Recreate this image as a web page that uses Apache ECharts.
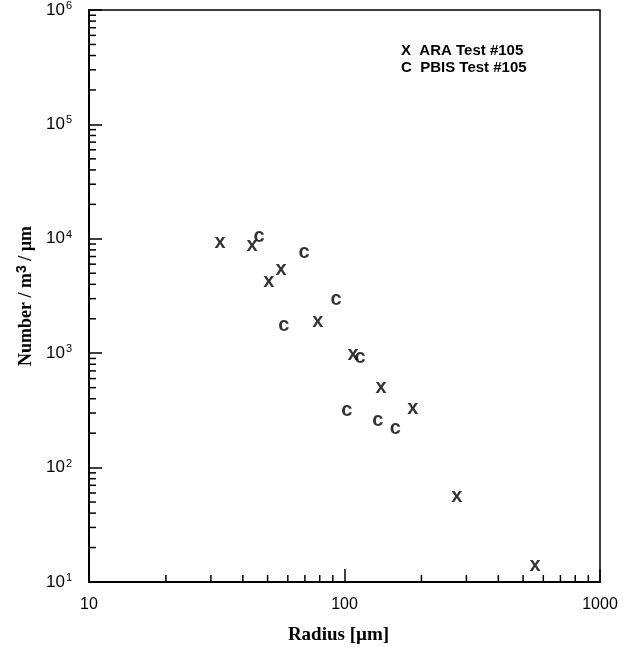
<!DOCTYPE html>
<html><head><meta charset="utf-8">
<script src="https://cdn.jsdelivr.net/npm/echarts@6/dist/echarts.min.js"></script>
<style>html,body{margin:0;padding:0;background:#fff}#c{width:626px;height:647px}</style>
</head><body><div id="c"></div>
<script>
// ARA Test #105 (x markers): [radius µm, number/m^3/µm]
const araRadius = [32.6, 43.5, 50.6, 56.4, 78.7, 108, 139, 185, 275, 557];
const araNumber = [9500, 9000, 4360, 5450, 1950, 1000, 507, 332, 56.5, 14.1];
// PBIS Test #105 (c markers)
const pbisRadius = [46.3, 69.4, 57.9, 92.7, 115, 102, 135, 158];
const pbisNumber = [10600, 7670, 1765, 2980, 927, 325, 261, 222];
const seriesNames = ['ARA Test #105', 'PBIS Test #105'];
const seriesLetters = ['X', 'C'];
const markLetters = ['x', 'c'];
const xRange = [10, 1000];
const yRange = [10, 1000000];

const minorX = [], minorY = [];
for (let d = xRange[0]; d < xRange[1]; d *= 10) for (let k = 2; k <= 9; k++) minorX.push(d * k);
for (let d = yRange[0]; d < yRange[1]; d *= 10) for (let k = 2; k <= 9; k++) minorY.push(d * k);

const sans = 'Liberation Sans, Arial, Helvetica, sans-serif';
const serif = 'Liberation Serif, Times New Roman, serif';
const chart = echarts.init(document.getElementById('c'));

function markSeries(i, xs, ys) {
  return {
    name: seriesNames[i], type: 'scatter',
    data: xs.map((x, j) => [x, ys[j]]),
    symbol: 'circle', symbolSize: 1,
    itemStyle: { color: 'rgba(0,0,0,0)' },
    label: { show: true, position: 'inside', formatter: markLetters[i],
      fontFamily: sans, fontWeight: 'bold', fontSize: 20, color: '#000', offset: [0, 1] },
    emphasis: { disabled: true }, silent: true, z: 5
  };
}

chart.setOption({
  animation: false,
  grid: { left: 89, top: 10, right: 26, bottom: 65, outerBoundsMode: 'none', containLabel: false,
    show: true, borderColor: '#000', borderWidth: 1.5, backgroundColor: 'transparent' },
  legend: {
    data: seriesNames, orient: 'vertical', left: 391, top: 38,
    itemWidth: 0, itemHeight: 0, itemGap: 2,
    formatter: n => seriesLetters[seriesNames.indexOf(n)] + '  ' + n,
    textStyle: { fontFamily: sans, fontWeight: 'bold', fontSize: 15, color: '#000', padding: 0 },
    selectedMode: false
  },
  xAxis: {
    type: 'log', logBase: 10, min: xRange[0], max: xRange[1],
    axisLine: { lineStyle: { color: '#000', width: 2 } },
    axisTick: { inside: true, length: 13, lineStyle: { color: '#000', width: 1.5 } },
    splitLine: { show: false },
    axisLabel: { fontFamily: sans, fontSize: 16, color: '#000', margin: 15, formatter: v => String(Math.round(v)) },
    name: 'Radius [µm]', nameLocation: 'middle', nameGap: 44,
    nameTextStyle: { fontFamily: serif, fontWeight: 'bold', fontSize: 19, color: '#000', padding: [0, 12, 0, 0] }
  },
  yAxis: {
    type: 'log', logBase: 10, min: yRange[0], max: yRange[1],
    axisLine: { lineStyle: { color: '#000', width: 2 } },
    axisTick: { inside: true, length: 13, lineStyle: { color: '#000', width: 1.5 } },
    splitLine: { show: false },
    axisLabel: {
      margin: 17,
      formatter: v => '10{s|' + Math.round(Math.log10(v)) + '}',
      rich: { s: { fontFamily: sans, fontSize: 11, color: '#000', verticalAlign: 'top', padding: [0, 0, 8, 1] } },
      fontFamily: sans, fontSize: 17, color: '#000'
    },
    name: 'Number / m{s|3} / µm', nameLocation: 'middle', nameGap: 52,
    nameTextStyle: { fontFamily: serif, fontWeight: 'bold', fontSize: 18, color: '#000',
      rich: { s: { fontFamily: sans, fontSize: 14, color: '#000', verticalAlign: 'top', padding: [0, 0, 8, 0] } } }
  },
  series: [
    markSeries(0, araRadius, araNumber),
    markSeries(1, pbisRadius, pbisNumber),
    {
      type: 'custom', silent: true, clip: false, z: 3,
      data: minorY.map(v => [xRange[0], v]),
      renderItem: (params, api) => {
        const p = api.coord([api.value(0), api.value(1)]);
        return { type: 'line', shape: { x1: p[0], y1: p[1], x2: p[0] + 7, y2: p[1] }, style: { stroke: '#000', lineWidth: 1.5 } };
      }
    },
    {
      type: 'custom', silent: true, clip: false, z: 3,
      data: minorX.map(v => [v, yRange[0]]),
      renderItem: (params, api) => {
        const p = api.coord([api.value(0), api.value(1)]);
        return { type: 'line', shape: { x1: p[0], y1: p[1], x2: p[0], y2: p[1] - 7 }, style: { stroke: '#000', lineWidth: 1.5 } };
      }
    }
  ]
});
</script></body></html>
